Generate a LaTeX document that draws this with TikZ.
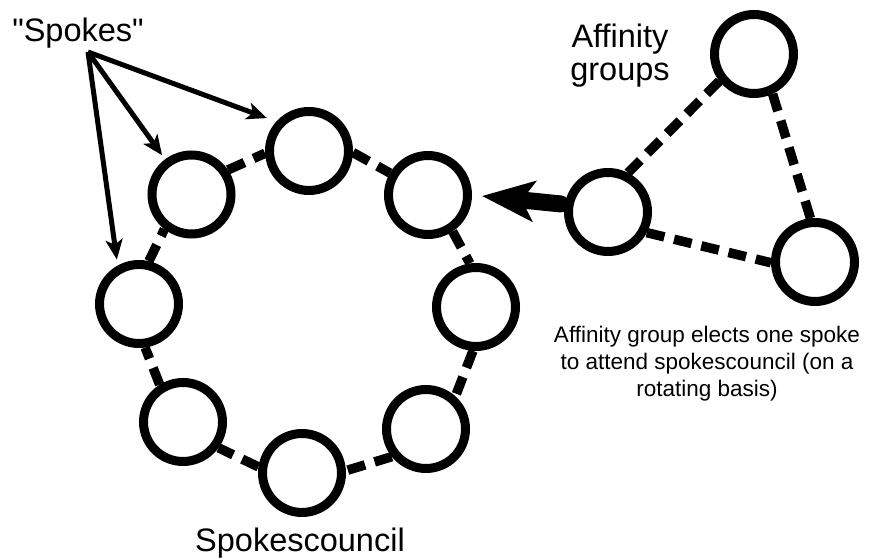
\documentclass[tikz,border=0pt]{standalone}
\usepackage{fontspec}
\setmainfont{Liberation Sans}[Ligatures=TeXOff]
\usetikzlibrary{arrows.meta}
\begin{document}
\begin{tikzpicture}[x=1pt,y=1pt,
  ring/.style={circle, draw, line width=9pt, minimum size=79pt, inner sep=0pt, fill=white},
  dashlink/.style={line width=9.5pt, dash pattern=on 18pt off 10pt},
  spokearrow/.style={line width=5pt, -{Stealth[length=20pt,width=17pt,inset=5pt]}},
  bigarrow/.style={line width=17pt, line cap=round, -{Stealth[length=52pt,width=40pt,inset=12pt]}},
  bigtext/.style={font=\fontsize{32.5}{33}\selectfont, align=center, inner sep=0pt},
  smalltext/.style={font=\fontsize{22.5}{27}\selectfont, align=center, inner sep=0pt}
]
\useasboundingbox (0,0) rectangle (872,559);
% ring (spokescouncil)
\node[ring] (top) at (309,408) {};
\node[ring] (ul)  at (191.5,364.5) {};
\node[ring] (ur)  at (428,364) {};
\node[ring] (l)   at (139,255) {};
\node[ring] (r)   at (476,252) {};
\node[ring] (ll)  at (183,137) {};
\node[ring] (lr)  at (426,130) {};
\node[ring] (b)   at (302,86) {};
% affinity group
\node[ring] (ag1) at (754,505) {};
\node[ring] (ag2) at (608,347) {};
\node[ring] (ag3) at (815,297) {};
% dashed links
\draw[dashlink] (ul.34) -- (top.183);
\draw[dashlink] (top.-2) -- (ur.150);
\draw[dashlink] (ur.-56) -- (r.98);
\draw[dashlink] (r.266) -- (lr.48);
\draw[dashlink] (lr.219) -- (b.3);
\draw[dashlink] (b.172) -- (ll.-36);
\draw[dashlink] (ll.122) -- (l.-82);
\draw[dashlink] (l.77) -- (ul.232);
\draw[dashlink] (ag1.218) -- (ag2.63);
\draw[dashlink] (ag1.-65) -- (ag3.96);
\draw[dashlink] (ag2.-28) -- (ag3.181);
% texts
\node[bigtext, anchor=base] (spokes) at (78,517) {"Spokes"};
\node[bigtext, anchor=base] (aff) at (620,478) {Affinity\\groups};
\node[bigtext, anchor=base] (council) at (300,7) {Spokescouncil};
\node[smalltext, anchor=base] (cap) at (707,162) {Affinity group elects one spoke\\to attend spokescouncil (on a\\rotating basis)};
% spokes arrows
\coordinate (s) at (88,507);
\draw[spokearrow, shorten >=10pt] (s) -- (top.138);
\draw[spokearrow, shorten >=5pt] (s) -- (ul.127);
\draw[spokearrow, shorten >=6pt] (s) -- (l.119);
% big arrow
\draw[bigarrow, shorten <=4pt, shorten >=10pt] (ag2.170) -- (ur.east);
\end{tikzpicture}
\end{document}
